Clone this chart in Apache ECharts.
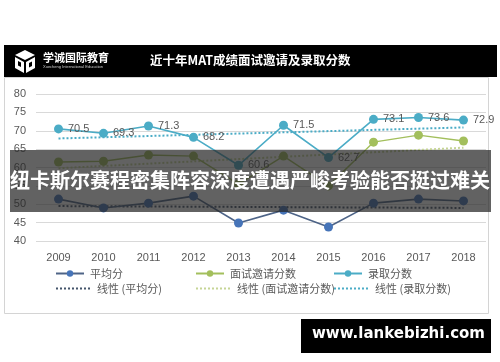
<!DOCTYPE html>
<html><head><meta charset="utf-8">
<script src="https://cdn.jsdelivr.net/npm/echarts@6/dist/echarts.min.js"></script>
<style>html,body{margin:0;padding:0;background:#fff}#c{width:500px;height:362px}</style>
</head><body><div id="c"></div>
<script>
const years = ['2009','2010','2011','2012','2013','2014','2015','2016','2017','2018'];
const avgScore = [51.4, 49.0, 50.3, 52.2, 44.9, 48.4, 43.8, 50.3, 51.4, 50.9];
const interviewScore = [61.5, 61.7, 63.4, 63.1, 55.5, 63.1, 55.0, 66.9, 68.8, 67.2];
const admitScore = [70.5, 69.3, 71.3, 68.2, 60.6, 71.5, 62.7, 73.1, 73.6, 72.9];
// trend line end values (2009, 2018)
const trendAvg = [49.5, 49.0];
const trendInterview = [59.8, 65.4];
const trendAdmit = [67.9, 70.9];
const yTicks = {min: 40, max: 80, step: 5};
const seriesNames = ['平均分', '面试邀请分数', '录取分数'];
const trendNames = ['线性 (平均分)', '线性 (面试邀请分数)', '线性 (录取分数)'];
const titleText = '近十年MAT成绩面试邀请及录取分数';
const overlayText = '纽卡斯尔赛程密集阵容深度遭遇严峻考验能否挺过难关';
const watermark = 'www.lankebizhi.com';

const cjk = "'Noto Sans CJK SC', 'Liberation Sans', sans-serif";
const num = "'Liberation Sans', Arial, sans-serif";
const C = {avgLine:'#4e6487', avgPt:'#4674b8', iv:'#a3bf5c', ad:'#4bacc6', avgT:'#44546a', ivT:'#c6d596', adT:'#4bacc6'};

function trend(arr){ return [[years[0], arr[0]], [years[years.length-1], arr[1]]]; }
function lg(name, left, top, w, hideSym){
  const o = {data:[name], left:left, top:top, itemWidth:w, itemHeight:8, itemGap:0,
    textStyle:{fontFamily:cjk, fontSize:11, color:'#595959', padding:[0,0,0,1]}, padding:0};
  if (hideSym) o.itemStyle = {opacity:0};
  return o;
}

const chart = echarts.init(document.getElementById('c'), null, {renderer:'canvas'});
chart.setOption({
  animation:false,
  backgroundColor:'#fff',
  grid:{left:36, right:14, top:94, bottom:121},
  xAxis:{type:'category', data:years, boundaryGap:true,
    axisLine:{show:false}, axisTick:{show:false},
    axisLabel:{color:'#595959', fontSize:11, fontFamily:num, margin:11}},
  yAxis:{type:'value', min:yTicks.min, max:yTicks.max, interval:yTicks.step,
    axisLine:{show:false}, axisTick:{show:false},
    axisLabel:{color:'#595959', fontSize:11, fontFamily:num, margin:10},
    splitLine:{lineStyle:{color:'#d9d9d9', width:1}}},
  legend:[
    lg(seriesNames[0], 55, 268, 28),
    lg(seriesNames[1], 195, 268, 28),
    lg(seriesNames[2], 333, 268, 28),
    lg(trendNames[0], 55, 283, 35, true),
    lg(trendNames[1], 195, 283, 35, true),
    lg(trendNames[2], 333, 283, 35, true)
  ],
  series:[
    {name:trendNames[0], type:'line', data:trend(trendAvg), symbol:'none', z:1,
      lineStyle:{color:C.avgT, width:2, type:'dotted'}, itemStyle:{color:C.avgT}},
    {name:trendNames[1], type:'line', data:trend(trendInterview), symbol:'none', z:1,
      lineStyle:{color:C.ivT, width:2, type:'dotted'}, itemStyle:{color:C.ivT}},
    {name:trendNames[2], type:'line', data:trend(trendAdmit), symbol:'none', z:1,
      lineStyle:{color:C.adT, width:2, type:'dotted'}, itemStyle:{color:C.adT}},
    {name:seriesNames[0], type:'line', data:avgScore, symbol:'circle', symbolSize:9, z:3,
      lineStyle:{color:C.avgLine, width:1.6}, itemStyle:{color:C.avgPt}},
    {name:seriesNames[1], type:'line', data:interviewScore, symbol:'circle', symbolSize:9, z:3,
      lineStyle:{color:C.iv, width:1.4}, itemStyle:{color:C.iv}},
    {name:seriesNames[2], type:'line', data:admitScore, symbol:'circle', symbolSize:9, z:3,
      lineStyle:{color:C.ad, width:1.6}, itemStyle:{color:C.ad},
      label:{show:true, position:'right', distance:5, color:'#595959', fontSize:11, fontFamily:num}}
  ],
  graphic:[
    {type:'rect', z:0, silent:true, shape:{x:4.5, y:77.5, width:484, height:236},
      style:{fill:'none', stroke:'#d4d4d4', lineWidth:1}},
    {type:'rect', z:50, shape:{x:4, y:45, width:493, height:32}, style:{fill:'#000'}},
    {type:'polygon', z:52, shape:{points:[[25,50],[35,55],[25,60],[15,55]]}, style:{fill:'#fff'}},
    {type:'polygon', z:52, shape:{points:[[15,57],[24,62],[24,73],[15,68]]}, style:{fill:'#fff'}},
    {type:'polygon', z:52, shape:{points:[[26,62],[35,57],[35,68],[26,73]]}, style:{fill:'#fff'}},
    {type:'polygon', z:53, shape:{points:[[18,61],[21,62.5],[21,67],[18,65.5]]}, style:{fill:'#000'}},
    {type:'polygon', z:53, shape:{points:[[29,63],[32,61.5],[32,66],[29,67.5]]}, style:{fill:'#000'}},
    {type:'text', z:51, left:43, top:52, style:{text:'学诚国际教育', fill:'#fff', font:"bold 11px 'Noto Sans CJK SC'"}},
    {type:'text', z:51, left:43, top:65, style:{text:'Xuecheng International Education', fill:'#ccc', font:"4px 'Liberation Sans'"}},
    {type:'text', z:51, left:150, top:54, style:{text:titleText, fill:'#fff', font:"bold 12.5px 'Noto Sans CJK SC'"}},
    {type:'rect', z:60, shape:{x:10, y:150, width:481, height:62}, style:{fill:'rgba(38,38,38,0.72)'}},
    {type:'text', z:61, left:10, top:170, style:{text:overlayText, fill:'#fff', font:"bold 20px 'Noto Sans CJK SC'"}},
    {type:'rect', z:60, shape:{x:301, y:319, width:190, height:34}, style:{fill:'#000'}},
    {type:'text', z:61, left:312, top:327, style:{text:watermark, fill:'#fff', font:"bold 15px 'DejaVu Sans'"}}
  ]
});
</script></body></html>
